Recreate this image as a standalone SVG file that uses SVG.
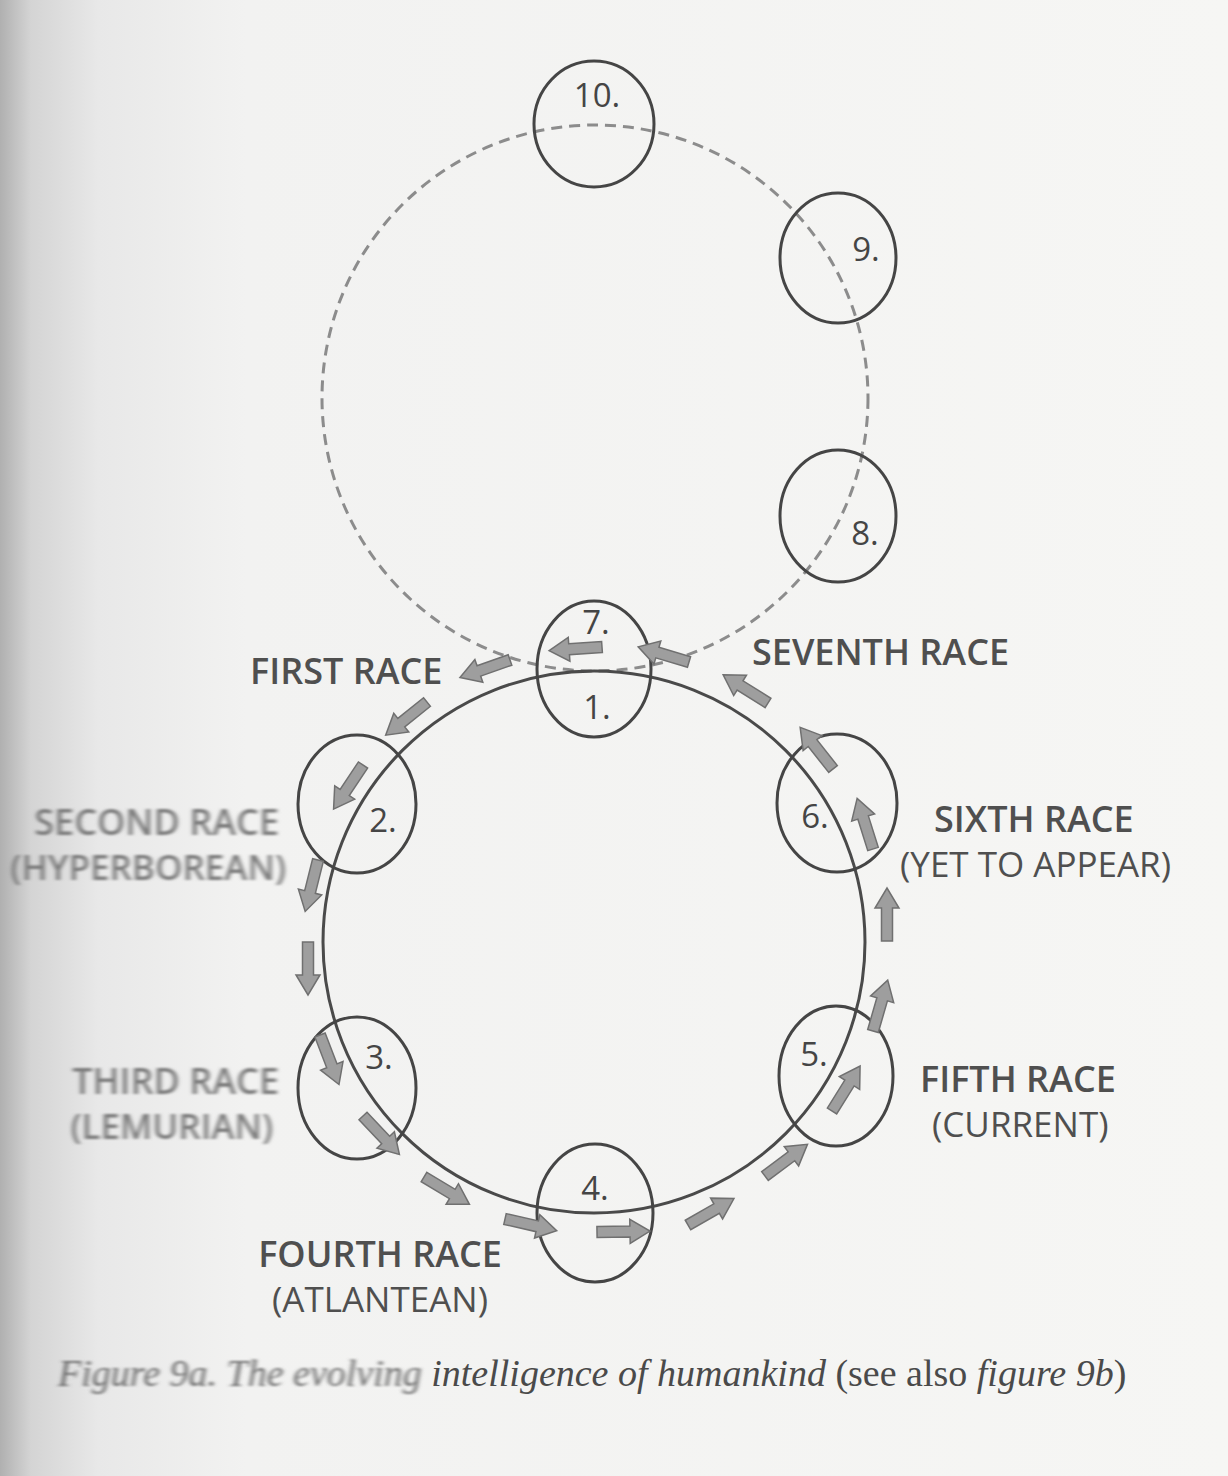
<svg xmlns="http://www.w3.org/2000/svg" xmlns:xlink="http://www.w3.org/1999/xlink" width="1228" height="1476" viewBox="0 0 1228 1476">
<defs>
<linearGradient id="bg" x1="0" y1="0" x2="1" y2="0">
<stop offset="0" stop-color="#b0b0b0"/>
<stop offset="0.025" stop-color="#d4d4d4"/>
<stop offset="0.08" stop-color="#e8e8e8"/>
<stop offset="0.2" stop-color="#f2f2f1"/>
<stop offset="1" stop-color="#f6f6f4"/>
</linearGradient>
<filter id="blur" x="-5%" y="-20%" width="110%" height="140%"><feGaussianBlur stdDeviation="2.2 0.9"/></filter>
<path id="arr" d="M0,-5.5 L33,-5.5 L33,-12 L53,0 L33,12 L33,5.5 L0,5.5 Z"/>
</defs>
<style>
.node{fill:none;stroke:#454545;stroke-width:3}
.num{font-family:"Open Sans","DejaVu Sans",sans-serif;font-size:33px;fill:#454545;text-anchor:middle}
.race{font-family:"Open Sans","DejaVu Sans",sans-serif;font-size:36px;font-weight:600;fill:#4f4f4f}
.sub{font-family:"Open Sans","DejaVu Sans",sans-serif;font-size:35px;fill:#4f4f4f}
.faint{fill:#7a7a7a}
.ar{fill:#9e9e9e;stroke:#707070;stroke-width:1.5}
.cap{font-family:"Liberation Serif","DejaVu Serif",serif;font-size:38px;fill:#4a4a4a}
</style>
<rect x="0" y="0" width="1228" height="1476" fill="url(#bg)"/>

<g id="cycles">
<circle id="upper-cycle" cx="595" cy="398" r="273" fill="none" stroke="#8c8c8c" stroke-width="3" stroke-dasharray="11 7"/>
<circle id="lower-cycle" cx="594" cy="942" r="271" fill="none" stroke="#4a4a4a" stroke-width="3"/>
</g>

<g id="node-10"><ellipse class="node" cx="594" cy="124" rx="60" ry="63"/><text class="num" x="597" y="107">10.</text></g>
<g id="node-9"><ellipse class="node" cx="838" cy="258" rx="58" ry="65"/><text class="num" x="866" y="261">9.</text></g>
<g id="node-8"><ellipse class="node" cx="838" cy="516" rx="58" ry="66"/><text class="num" x="865" y="545">8.</text></g>
<g id="node-7-1"><ellipse class="node" cx="594" cy="669" rx="57" ry="68"/><text class="num" x="596" y="634">7.</text><text class="num" x="597" y="719">1.</text></g>
<g id="node-2"><ellipse class="node" cx="357" cy="804" rx="59" ry="69"/><text class="num" x="383" y="832">2.</text></g>
<g id="node-3"><ellipse class="node" cx="357" cy="1088" rx="59" ry="71"/><text class="num" x="379" y="1069">3.</text></g>
<g id="node-4"><ellipse class="node" cx="595" cy="1213" rx="58" ry="69"/><text class="num" x="595" y="1200">4.</text></g>
<g id="node-5"><ellipse class="node" cx="836" cy="1076" rx="57" ry="70"/><text class="num" x="814" y="1066">5.</text></g>
<g id="node-6"><ellipse class="node" cx="837" cy="803" rx="60" ry="69"/><text class="num" x="815" y="828">6.</text></g>

<g id="connectors">
<use xlink:href="#arr" class="ar" transform="translate(602,647) rotate(176)"/>
<use xlink:href="#arr" class="ar" transform="translate(689,662) rotate(196.6)"/>
<use xlink:href="#arr" class="ar" transform="translate(510,660) rotate(160.7)"/>
<use xlink:href="#arr" class="ar" transform="translate(427,702) rotate(141.2)"/>
<use xlink:href="#arr" class="ar" transform="translate(363,765) rotate(123.7)"/>
<use xlink:href="#arr" class="ar" transform="translate(318,860) rotate(104)"/>
<use xlink:href="#arr" class="ar" transform="translate(308,942) rotate(90)"/>
<use xlink:href="#arr" class="ar" transform="translate(320,1035) rotate(69)"/>
<use xlink:href="#arr" class="ar" transform="translate(363,1116) rotate(46.6)"/>
<use xlink:href="#arr" class="ar" transform="translate(424,1177) rotate(31)"/>
<use xlink:href="#arr" class="ar" transform="translate(505,1219) rotate(12.8)"/>
<use xlink:href="#arr" class="ar" transform="translate(597,1232) rotate(-1)"/>
<use xlink:href="#arr" class="ar" transform="translate(688,1225) rotate(-29.9)"/>
<use xlink:href="#arr" class="ar" transform="translate(765,1176) rotate(-36.7)"/>
<use xlink:href="#arr" class="ar" transform="translate(832,1111) rotate(-58)"/>
<use xlink:href="#arr" class="ar" transform="translate(873,1031) rotate(-73.9)"/>
<use xlink:href="#arr" class="ar" transform="translate(887,941) rotate(-90)"/>
<use xlink:href="#arr" class="ar" transform="translate(873,849) rotate(-107.4)"/>
<use xlink:href="#arr" class="ar" transform="translate(833,769) rotate(-128.3)"/>
<use xlink:href="#arr" class="ar" transform="translate(768,703) rotate(-147.8)"/>
</g>

<g id="labels">
<text class="race" x="250" y="684">FIRST RACE</text>
<text class="race" x="752" y="665">SEVENTH RACE</text>
<g filter="url(#blur)">
<text class="race faint" x="279" y="835" text-anchor="end">SECOND RACE</text>
<text class="sub faint" x="286" y="880" text-anchor="end" font-weight="600">(HYPERBOREAN)</text>
<text class="race faint" x="279" y="1094" text-anchor="end">THIRD RACE</text>
<text class="sub faint" x="273" y="1139" text-anchor="end" font-weight="600">(LEMURIAN)</text>
</g>
<text class="race" x="934" y="832">SIXTH RACE</text>
<text class="sub" x="900" y="877">(YET TO APPEAR)</text>
<text class="race" x="920" y="1092">FIFTH RACE</text>
<text class="sub" x="932" y="1137">(CURRENT)</text>
<text class="race" x="380" y="1267" text-anchor="middle">FOURTH RACE</text>
<text class="sub" x="380" y="1312" text-anchor="middle">(ATLANTEAN)</text>
</g>

<g id="caption">
<text class="cap" x="58" y="1386"><tspan font-style="italic" filter="url(#blur)" fill="#666">Figure 9a. The evolving</tspan> <tspan font-style="italic">intelligence of humankind</tspan> (see also <tspan font-style="italic">figure 9b</tspan>)</text>
</g>
</svg>
